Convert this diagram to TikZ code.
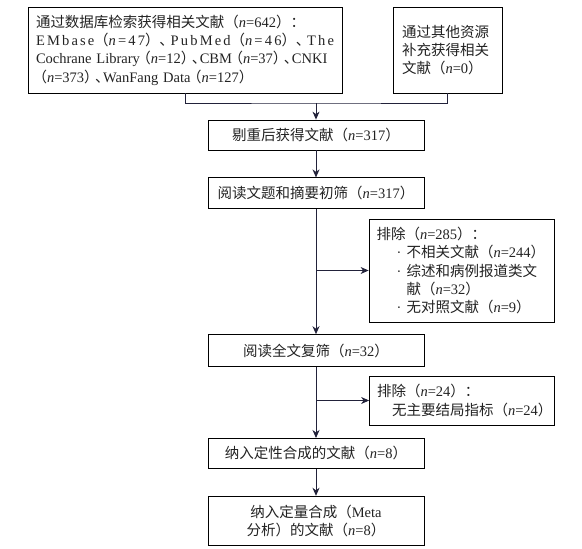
\documentclass[tikz,border=0pt]{standalone}
\usepackage{fontspec}
\setmainfont{Liberation Serif}
\newfontfamily\cjk{Noto Sans CJK SC}
\newfontfamily\spaced[LetterSpace=15]{Liberation Serif}
\usetikzlibrary{arrows.meta,positioning}

\newcommand{\zh}[1]{{\cjk #1}}
\newcommand{\nn}[1]{\zh{（}\textit{n}=#1\zh{）}}
% narrow parentheses and comma for the long source lines
\newcommand{\nnc}[1]{\makebox[11pt][r]{\zh{（}}\textit{n}=#1\makebox[11pt][l]{\zh{）}}}
\newcommand{\dun}{\makebox[8pt][l]{\zh{、}}}
\newcommand{\itm}{\hspace*{20pt}\makebox[10pt][l]{\textperiodcentered}}
\definecolor{linec}{HTML}{22223A}
\definecolor{textc}{HTML}{222222}

\begin{document}
\begin{tikzpicture}[x=1pt, y=-1pt,
    box/.style={draw, line width=0.8pt, inner sep=0pt, align=center,
        text=textc, font=\fontsize{14.5}{18.3}\selectfont},
    mainbox/.style={box, minimum width=216pt},
    exclbox/.style={box, align=left, minimum width=185pt, text width=170pt},
    flow/.style={draw=linec, line width=0.9pt},
    arr/.style={flow, -{Stealth[length=8pt, width=7pt, inset=2.5pt]}}
]
\useasboundingbox (0,0) rectangle (582,549);

% identification
\node[box, align=left, minimum width=314pt, minimum height=86pt,
      text width=298pt] (search) at (185,50)
    {\mbox{\zh{通过数据库检索获得相关文献}\nn{642}\zh{：}}\\
     \leavevmode\hbox to \hsize{\spaced EMbase\hfil\nnc{47}\hfil\dun\hfil PubMed\hfil\nnc{46}\hfil\dun\hfil The}\\
     \mbox{Cochrane Library\nnc{12}\dun CBM\nnc{37}\dun CNKI}\\
     \mbox{\nnc{373}\dun WanFang Data\nnc{127}}};

\node[box, align=left, minimum width=109pt, minimum height=86pt,
      text width=91pt] (other) at (447.5,50)
    {\zh{通过其他资源}\\\zh{补充获得相关}\\\zh{文献}\nn{0}};

\coordinate (merge) at (316,103);

% screening
\node[mainbox, minimum height=30pt] (dedup) at (316,135)
    {\zh{剔重后获得文献}\nn{317}};

\node[mainbox, minimum height=31pt, below=27pt of dedup] (screen)
    {\zh{阅读文题和摘要初筛}\nn{317}};

\node[exclbox, minimum height=103pt] (excl1) at (461.5,270.5)
    {\zh{排除}\nn{285}\zh{：}\\
     \itm\zh{不相关文献}\nn{244}\\
     \itm\zh{综述和病例报道类文}\\
     \hspace*{30pt}\zh{献}\nn{32}\\
     \itm\zh{无对照文献}\nn{9}};

\node[mainbox, minimum height=32pt, below=125pt of screen] (fulltext)
    {\zh{阅读全文复筛}\nn{32}};

\node[exclbox, minimum height=49pt] (excl2) at (462,400.5)
    {\zh{排除}\nn{24}\zh{：}\\
     \hspace*{15pt}\zh{无主要结局指标}\nn{24}};

% included
\node[mainbox, minimum height=30pt, below=71pt of fulltext] (qual)
    {\zh{纳入定性合成的文献}\nn{8}};

\node[mainbox, minimum height=49pt, below=27pt of qual] (meta)
    {\zh{纳入定量合成（}Meta\\\zh{分析）的文献}\nn{8}};

% connectors
\draw[flow] (search.south) |- (merge) -| (other.south);
\draw[arr] (merge) -- (dedup);
\draw[arr] (dedup) -- (screen);
\draw[arr] (screen) -- (fulltext);
\draw[arr] (screen.south |- excl1.west) -- (excl1.west);
\draw[arr] (fulltext) -- (qual);
\draw[arr] (fulltext.south |- excl2.west) -- (excl2.west);
\draw[arr] (qual) -- (meta);

\end{tikzpicture}
\end{document}
